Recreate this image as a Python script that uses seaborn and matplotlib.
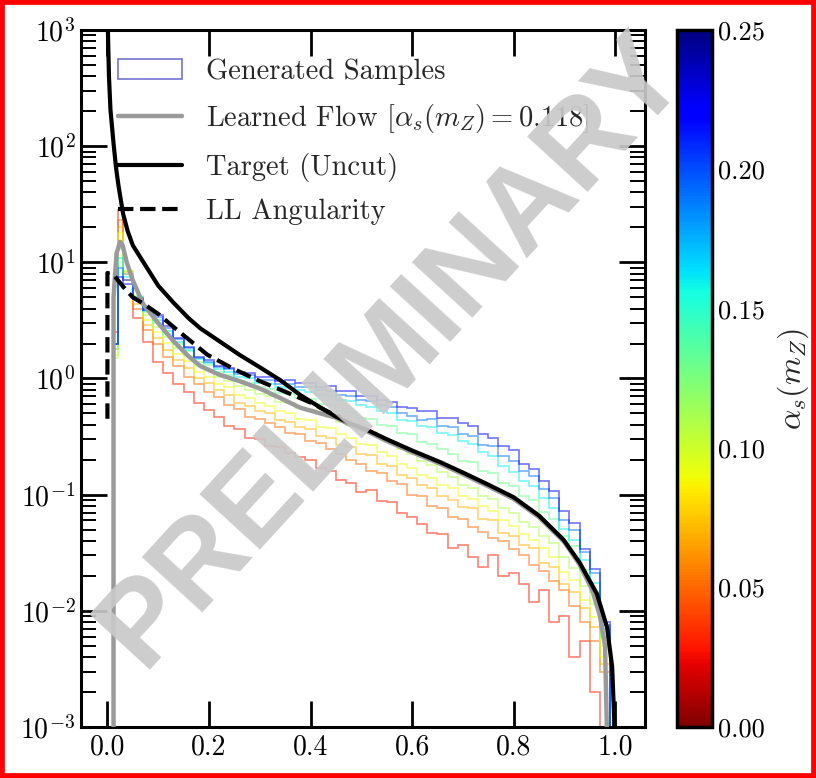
import numpy as np
import matplotlib
matplotlib.use("Agg")
import matplotlib.pyplot as plt
import seaborn as sns
from matplotlib.patches import Patch, Rectangle
from matplotlib.lines import Line2D
from matplotlib.colors import Normalize
from matplotlib import ticker
import matplotlib.cm as mcm

# ---------------- data ----------------
alpha_values = [0.03, 0.05, 0.07, 0.09, 0.11, 0.13, 0.16, 0.19, 0.22]

bin_edges = np.concatenate([[0.01, 0.02, 0.03], np.arange(0.05, 0.9901, 0.02)])

hist_red = [2.5, 28, 7.0, 3.3, 2.05, 1.4, 1.12, 0.9, 0.77, 0.61, 0.54, 0.47, 0.39, 0.37, 0.31,
            0.3, 0.26, 0.255, 0.23, 0.21, 0.2, 0.17, 0.16, 0.135, 0.125, 0.105, 0.11, 0.088, 0.086, 0.07,
            0.064, 0.056, 0.047, 0.046, 0.035, 0.037, 0.029, 0.024, 0.03, 0.02, 0.021, 0.017, 0.012, 0.015,
            0.008, 0.009, 0.004, 0.0055, 0.002, 0.0]
hist_orange = [2.0, 23, 8.0, 4.0, 2.6, 2.0, 1.52, 1.27, 1.03, 0.9, 0.77, 0.69, 0.59, 0.55, 0.47,
               0.45, 0.41, 0.38, 0.34, 0.33, 0.29, 0.28, 0.245, 0.225, 0.2, 0.185, 0.16, 0.155, 0.13, 0.124,
               0.1, 0.098, 0.08, 0.077, 0.064, 0.062, 0.053, 0.048, 0.042, 0.04, 0.034, 0.03, 0.025, 0.022,
               0.018, 0.015, 0.011, 0.008, 0.0055, 0.003]
hist_yorange = [1.8, 20, 8.3, 4.4, 2.9, 2.25, 1.77, 1.43, 1.22, 1.0, 0.91, 0.79, 0.72, 0.62, 0.58,
                0.52, 0.5, 0.44, 0.42, 0.38, 0.37, 0.32, 0.31, 0.27, 0.255, 0.225, 0.22, 0.185, 0.178, 0.148,
                0.138, 0.122, 0.113, 0.098, 0.09, 0.078, 0.076, 0.062, 0.06, 0.047, 0.044, 0.037, 0.035, 0.026,
                0.024, 0.017, 0.0145, 0.0105, 0.0072, 0.0035]
hist_yellow = [1.6, 18, 8.5, 4.7, 3.2, 2.5, 2.02, 1.63, 1.42, 1.14, 1.04, 0.9, 0.84, 0.72, 0.68,
               0.61, 0.58, 0.52, 0.5, 0.45, 0.44, 0.38, 0.375, 0.33, 0.31, 0.275, 0.265, 0.235, 0.215, 0.185,
               0.17, 0.148, 0.138, 0.122, 0.115, 0.098, 0.092, 0.08, 0.072, 0.061, 0.054, 0.046, 0.041, 0.035,
               0.029, 0.0215, 0.0185, 0.0125, 0.0088, 0.004]
hist_green = [1.5, 15, 8.5, 5.0, 3.5, 2.8, 2.27, 1.83, 1.56, 1.29, 1.18, 1.04, 0.96, 0.86, 0.8,
              0.73, 0.7, 0.63, 0.61, 0.56, 0.54, 0.49, 0.47, 0.42, 0.4, 0.355, 0.345, 0.305, 0.285, 0.245,
              0.225, 0.195, 0.18, 0.157, 0.143, 0.122, 0.115, 0.098, 0.092, 0.077, 0.07, 0.058, 0.053, 0.044,
              0.038, 0.029, 0.0235, 0.0165, 0.0115, 0.005]
hist_aqua = [1.8, 13, 8.0, 5.1, 3.7, 3.0, 2.42, 1.98, 1.72, 1.4, 1.3, 1.14, 1.08, 0.96, 0.92,
             0.84, 0.81, 0.75, 0.73, 0.68, 0.66, 0.6, 0.59, 0.53, 0.51, 0.46, 0.45, 0.4, 0.39, 0.34,
             0.33, 0.285, 0.275, 0.245, 0.225, 0.195, 0.19, 0.16, 0.155, 0.127, 0.118, 0.098, 0.09, 0.071,
             0.062, 0.044, 0.036, 0.0225, 0.0145, 0.006]
hist_sky = [2.0, 11, 7.5, 5.0, 3.8, 3.2, 2.57, 2.08, 1.77, 1.46, 1.35, 1.2, 1.14, 1.03, 1.0,
            0.91, 0.9, 0.84, 0.83, 0.79, 0.77, 0.72, 0.71, 0.65, 0.64, 0.59, 0.57, 0.52, 0.5, 0.44,
            0.43, 0.39, 0.385, 0.34, 0.325, 0.29, 0.275, 0.235, 0.215, 0.175, 0.158, 0.132, 0.118, 0.093,
            0.077, 0.051, 0.041, 0.0275, 0.0175, 0.007]
hist_blue = [2.0, 9.0, 7.0, 4.9, 3.9, 3.4, 2.72, 2.18, 1.84, 1.5, 1.4, 1.25, 1.2, 1.09, 1.07,
             0.98, 0.97, 0.9, 0.9, 0.85, 0.84, 0.79, 0.78, 0.72, 0.71, 0.65, 0.64, 0.59, 0.57, 0.5,
             0.48, 0.44, 0.45, 0.39, 0.38, 0.33, 0.32, 0.27, 0.26, 0.215, 0.195, 0.16, 0.145, 0.112,
             0.093, 0.06, 0.05, 0.032, 0.021, 0.0075]
hist_purple = [2.0, 7.5, 6.5, 4.8, 3.9, 3.5, 2.82, 2.23, 1.87, 1.53, 1.44, 1.28, 1.24, 1.13, 1.12,
               1.03, 1.03, 0.96, 0.97, 0.91, 0.92, 0.85, 0.86, 0.78, 0.78, 0.71, 0.7, 0.65, 0.63, 0.57,
               0.56, 0.52, 0.52, 0.46, 0.46, 0.41, 0.39, 0.33, 0.31, 0.26, 0.24, 0.185, 0.165, 0.13,
               0.108, 0.073, 0.057, 0.034, 0.023, 0.008]
hists = [hist_red, hist_orange, hist_yorange, hist_yellow, hist_green,
         hist_aqua, hist_sky, hist_blue, hist_purple]

target_x = [0.0, 0.003, 0.006, 0.012, 0.017, 0.022, 0.031, 0.04, 0.05, 0.071, 0.1, 0.13, 0.16,
            0.183, 0.22, 0.26, 0.3, 0.34, 0.38, 0.42, 0.45, 0.478, 0.512, 0.55, 0.6, 0.656, 0.7,
            0.75, 0.8, 0.85, 0.898, 0.93, 0.964, 0.984, 0.994, 0.998, 0.999]
target_y = [1500, 400, 205, 106, 65, 45, 26, 18.5, 14, 10, 6.3, 4.5, 3.3,
            2.7, 2.1, 1.6, 1.25, 0.97, 0.72, 0.56, 0.47, 0.41, 0.36, 0.3, 0.24, 0.19, 0.155,
            0.122, 0.095, 0.066, 0.041, 0.026, 0.014, 0.0072, 0.0033, 0.0012, 0.0005]

ll_x = [0.0, 0.0, 0.012, 0.032, 0.05, 0.071, 0.1, 0.138, 0.197, 0.25, 0.3, 0.35, 0.4, 0.43, 0.46]
ll_y = [0.45, 8.1, 7.8, 6.1, 5.0, 4.4, 3.6, 2.6, 1.6, 1.2, 0.95, 0.77, 0.62, 0.53, 0.46]

flow_x = [0.012, 0.012, 0.018, 0.025, 0.03, 0.038, 0.05, 0.07, 0.1, 0.13, 0.16, 0.183, 0.22, 0.26,
          0.3, 0.34, 0.38, 0.42, 0.45, 0.478, 0.512, 0.55, 0.6, 0.656, 0.7, 0.75, 0.8, 0.85, 0.9,
          0.93, 0.955, 0.97, 0.98, 0.985]
flow_y = [0.0005, 5.0, 12, 15, 14, 10, 7.0, 4.4, 3.0, 2.1, 1.55, 1.28, 1.08, 0.95,
          0.82, 0.68, 0.56, 0.5, 0.46, 0.4, 0.35, 0.29, 0.232, 0.184, 0.15, 0.118, 0.092, 0.064, 0.039,
          0.025, 0.015, 0.009, 0.005, 0.0005]

x_ticks = [0.0, 0.2, 0.4, 0.6, 0.8, 1.0]
cbar_ticks = [0.0, 0.05, 0.10, 0.15, 0.20, 0.25]
legend_labels = ["Generated Samples", r"Learned Flow [$\alpha_s(m_Z) = 0.118$]",
                 "Target (Uncut)", "LL Angularity"]

# ---------------- style ----------------
sns.set_theme(style="ticks")
plt.rcParams.update({
    "font.family": ["cmr10", "DejaVu Serif"],
    "mathtext.fontset": "cm",
    "axes.formatter.use_mathtext": True,
    "axes.unicode_minus": False,
    "axes.linewidth": 2.2,
})

fig = plt.figure(figsize=(8.16, 7.78), dpi=100)
fig.patch.set_facecolor("white")
ax = fig.add_axes([0.0993, 0.0656, 0.6907, 0.8958])
cax = fig.add_axes([0.8297, 0.0656, 0.0429, 0.8958])

ax.set_yscale("log")
ax.set_xlim(-0.052, 1.058)
ax.set_ylim(1e-3, 1e3)

cmap = plt.get_cmap("jet_r")
norm = Normalize(0.0, 0.25)

for a, vals in zip(alpha_values, hists):
    v = np.asarray(vals, dtype=float)
    v = np.where(v > 0, v, 1e-9)
    ax.stairs(v, bin_edges, baseline=1e-9, color=cmap(norm(a)), alpha=0.55,
              linewidth=1.2, zorder=2)

sns.lineplot(x=flow_x, y=flow_y, sort=False, estimator=None, color="#9a9a9a",
             linewidth=3.2, ax=ax, zorder=3)
sns.lineplot(x=ll_x, y=ll_y, sort=False, estimator=None, color="black",
             linewidth=3.0, linestyle="--", ax=ax, zorder=4)
sns.lineplot(x=target_x, y=target_y, sort=False, estimator=None, color="black",
             linewidth=3.0, ax=ax, zorder=5)

ax.set_xticks(x_ticks)
ax.xaxis.set_major_formatter(ticker.FormatStrFormatter("%.1f"))
ax.xaxis.set_minor_locator(ticker.NullLocator())
ax.yaxis.set_major_locator(ticker.LogLocator(base=10, numticks=10))
ax.yaxis.set_minor_locator(ticker.LogLocator(base=10, subs=np.arange(2, 10), numticks=20))
ax.yaxis.set_minor_formatter(ticker.NullFormatter())
ax.tick_params(which="major", direction="in", length=19, width=2.0, top=True, right=True,
               labelsize=20, pad=5, colors="black")
ax.tick_params(which="minor", direction="in", length=11, width=1.4, right=True, left=True,
               colors="black")
ax.tick_params(axis="y", which="major", pad=4)
for s in ax.spines.values():
    s.set_linewidth(2.2)
    s.set_color("black")
ax.set_xlabel("")
ax.set_ylabel("")

handles = [Patch(facecolor="none", edgecolor=(0.45, 0.45, 0.82), linewidth=1.2),
           Line2D([], [], color="#9a9a9a", linewidth=3.2),
           Line2D([], [], color="black", linewidth=3.0),
           Line2D([], [], color="black", linewidth=3.0, linestyle="--")]
leg = ax.legend(handles, legend_labels, loc="upper left", bbox_to_anchor=(0.045, 0.975),
                borderaxespad=0, frameon=False, fontsize=20.5, handlelength=2.25,
                handletextpad=0.85, labelspacing=0.6)

# colorbar
sm = mcm.ScalarMappable(norm=norm, cmap=cmap)
cb = fig.colorbar(sm, cax=cax, ticks=cbar_ticks)
cb.ax.yaxis.set_major_formatter(ticker.FormatStrFormatter("%.2f"))
cb.outline.set_linewidth(2.5)
cb.outline.set_edgecolor("black")
cb.ax.tick_params(direction="in", length=18, width=2.0, labelsize=19, pad=4, right=True,
                  colors="black")
cb.set_label(r"$\alpha_s(m_Z)$", fontsize=23, labelpad=8)

# watermark
fig.text(0.481, 0.548, "PRELIMINARY", rotation=47.5, rotation_mode="anchor",
         ha="center", va="center", fontsize=85, fontweight="bold",
         family=["Liberation Sans", "DejaVu Sans"], color="#c9c9c9", alpha=0.92, zorder=20)

# red frame
fig.patches.append(Rectangle((0, 0), 1, 1, transform=fig.transFigure, fill=False,
                             edgecolor="red", linewidth=7, zorder=30))

fig.savefig("out.png", dpi=100)
